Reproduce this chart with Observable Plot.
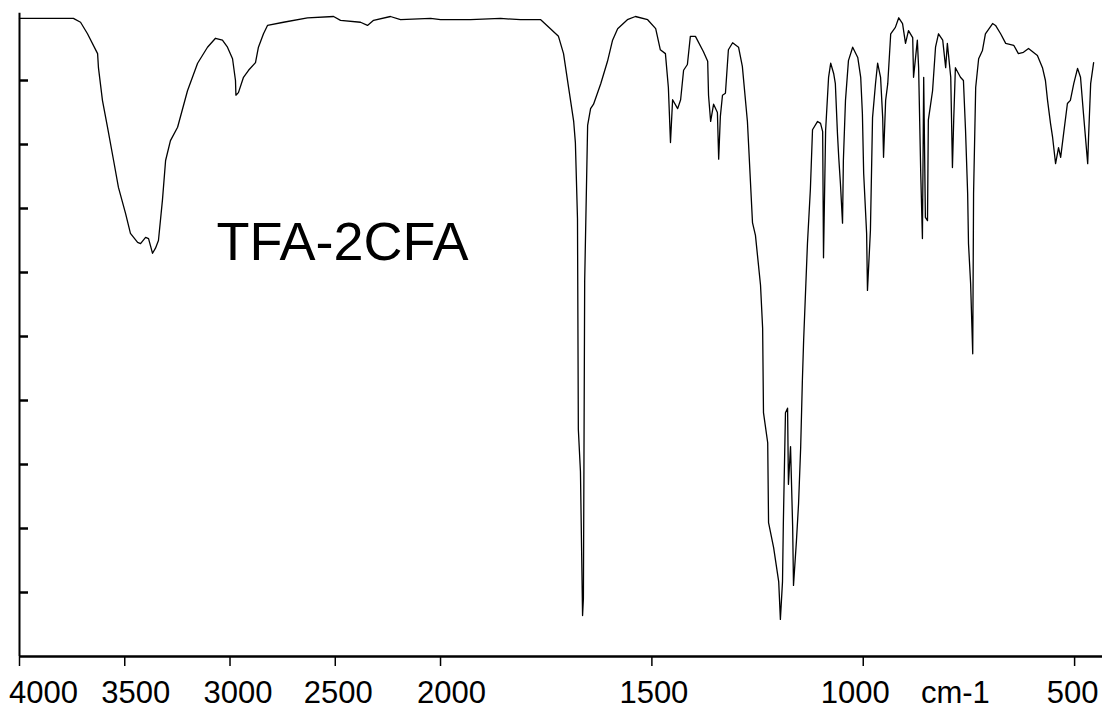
<!DOCTYPE html>
<html><head><meta charset="utf-8">
<script src="https://cdn.jsdelivr.net/npm/d3@7"></script>
<script src="https://cdn.jsdelivr.net/npm/@observablehq/plot@0.6"></script>
<style>html,body{margin:0;padding:0;background:#fff;}</style>
</head><body><div id="chart"></div>
<script>
// IR spectrum of TFA-2CFA: wavenumber (cm-1) and transmittance (%)
const wavenumber = [
4000,3744,3710,3677,3629,3625,3606,3582,3553,3530,3496,3473,3439,3425,3401,3387,3368,3354,3340,3321,
3306,3283,3249,3202,3154,3107,3069,3036,3012,2988,2974,2972,2960,2936,2912,2879,2865,2841,2822,2746,
2632,2508,2475,2380,2347,2318,2238,2190,2047,2000,1929,1858,1811,1763,1740,1721,1709,1697,1685,1681,
1676,1674,1669,1664,1662,1659,1652,1645,1638,1621,1605,1593,1581,1558,1539,1510,1491,1480,1468,1461,
1456,1451,1439,1432,1425,1416,1409,1397,1378,1368,1366,1361,1354,1345,1342,1338,1333,1326,1319,1309,
1295,1286,1274,1271,1262,1255,1243,1238,1236,1226,1224,1212,1200,1196,1191,1189,1184,1179,1177,1172,
1167,1165,1158,1153,1148,1144,1141,1132,1125,1120,1108,1101,1096,1094,1089,1082,1077,1070,1066,1061,
1058,1054,1049,1047,1042,1035,1025,1013,1006,1002,999,992,990,983,978,971,966,959,954,952,
947,942,935,924,916,907,900,893,883,881,872,869,864,860,857,853,848,846,836,829,
822,812,805,801,793,789,786,782,770,763,758,753,751,746,741,739,734,727,718,711,
694,687,675,663,644,633,621,609,588,576,569,564,557,552,545,538,533,526,517,510,
502,493,486,479,469,467,462,455];
const transmittance = [
99.7,99.7,99.1,97.3,94.2,92.0,86.9,82.7,77.5,73.3,69.2,66.1,64.7,64.5,65.5,65.3,63.0,63.8,65.0,71.3,
77.5,80.6,82.7,88.4,92.7,95.2,96.6,96.3,95.2,93.4,90.0,87.7,88.1,90.5,91.6,92.8,95.2,97.3,98.6,99.1,
99.8,100.0,99.4,99.1,98.6,99.4,100.0,99.5,99.7,99.5,99.5,99.7,99.5,99.5,98.1,96.9,94.2,88.9,83.6,80.3,
68.4,35.5,28.9,6.4,9.1,58.6,83.0,85.6,86.3,89.5,93.0,96.3,98.1,99.5,100.0,99.5,98.1,94.8,94.2,88.9,
80.3,87.0,85.6,87.0,91.6,92.5,96.9,96.9,94.5,93.0,87.7,83.6,86.3,85.0,77.7,84.4,87.7,88.0,94.8,95.9,
95.2,92.2,83.6,79.7,67.8,65.8,58.0,51.3,38.1,33.4,20.9,17.0,11.7,5.8,11.7,20.9,38.1,38.8,26.9,32.8,
20.3,11.1,18.1,23.9,32.7,43.1,49.4,64.5,73.1,82.3,83.6,83.3,82.0,62.3,82.2,90.5,92.7,91.1,89.5,81.7,
78.0,73.9,67.7,77.5,86.9,93.1,95.2,93.6,90.5,84.8,75.5,66.1,57.2,66.6,84.2,89.5,92.7,90.5,84.2,78.0,
86.9,89.5,97.3,98.3,99.8,98.9,95.8,97.8,96.7,90.5,96.3,92.0,75.5,65.3,90.5,68.6,68.1,83.8,88.4,95.2,
97.3,96.3,92.0,95.8,90.5,76.4,83.8,92.0,90.5,90.0,82.2,72.3,64.5,58.3,47.3,72.3,88.9,93.4,94.7,97.3,
98.9,98.6,97.3,95.8,95.5,94.2,94.4,95.0,93.9,92.0,90.0,86.9,83.3,81.1,77.0,79.5,78.0,81.7,86.4,86.9,
89.5,91.9,90.5,84.8,77.0,81.1,89.5,92.8];

const xTicks = [4000, 3500, 3000, 2500, 2000, 1500, 1000, 500];
const yTicks = [10, 20, 30, 40, 50, 60, 70, 80, 90];
const xDomain = [4000, 434];           // wavenumber range of the axis
const scaleBreak = 2000;               // below 2000 cm-1 the axis scale is doubled
const stretch = 2.008;
const sampleName = "TFA-2CFA";
const sampleNamePos = {wavenumber: 3064, transmittance: 67.9};
const unitLabel = "cm-1";
const unitLabelWavenumber = 782;
// horizontal nudges (px) of the tick labels, as drawn in the original
const tickLabelShift = [24, 11, 8, 3, 11, 2, -8, -2];

// map wavenumber to the chart's split-scale axis units
const toAxis = w => w >= scaleBreak ? w : scaleBreak - (scaleBreak - w) * stretch;
const spectrum = wavenumber.map((w, i) => ({u: toAxis(w), t: transmittance[i]}));
const tickTable = xTicks.map((w, i) => ({u: toAxis(w), label: String(w), shift: tickLabelShift[i]}));
const font = "'Liberation Sans', Arial, Helvetica, sans-serif";

const chart = Plot.plot({
  width: 1109,
  height: 710,
  marginLeft: 19,
  marginRight: 7,
  marginTop: 16,
  marginBottom: 54,
  style: {background: "#fff", fontFamily: font, color: "#000", overflow: "visible"},
  x: {domain: xDomain.map(toAxis), label: null, axis: null},
  y: {domain: [0, 100], label: null},
  marks: [
    Plot.line(spectrum, {x: "u", y: "t", stroke: "#000", strokeWidth: 1.3}),
    Plot.ruleY([0], {stroke: "#000", strokeWidth: 2.5}),
    Plot.ruleX([toAxis(4000)], {y1: 0, y2: 100.5, stroke: "#000", strokeWidth: 2}),
    Plot.ruleX(tickTable, {x: "u", y1: 0, y2: -1.56, stroke: "#000", strokeWidth: 1.5}),
    ...tickTable.map(d => Plot.text([d], {x: "u", text: "label", frameAnchor: "bottom", dy: 24, dx: d.shift, lineAnchor: "top", fontSize: 31, fill: "#000"})),
    Plot.axisY(yTicks, {tickSize: 9, dx: 9, strokeWidth: 2.5, tickFormat: () => "", stroke: "#000"}),
    Plot.text([unitLabel], {x: toAxis(unitLabelWavenumber), frameAnchor: "bottom", dy: 24, lineAnchor: "top", fontSize: 31, fill: "#000"}),
    Plot.text([sampleName], {x: toAxis(sampleNamePos.wavenumber), y: sampleNamePos.transmittance, textAnchor: "start", lineAnchor: "top", fontSize: 54, fill: "#000"})
  ]
});
document.getElementById("chart").appendChild(chart);
</script>
</body></html>
